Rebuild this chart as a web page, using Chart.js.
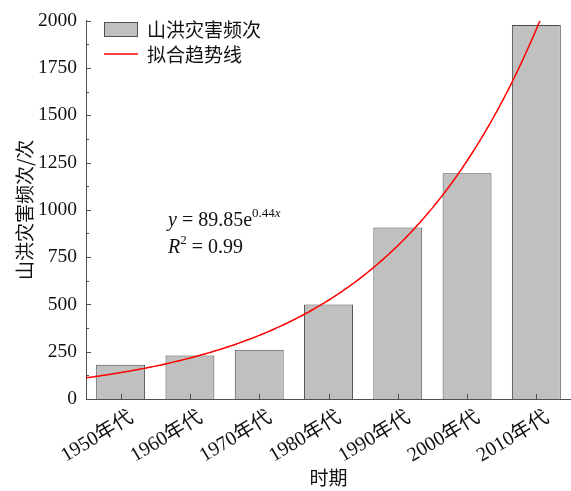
<!DOCTYPE html>
<html>
<head>
<meta charset="utf-8">
<script src="https://cdn.jsdelivr.net/npm/chart.js@4"></script>
<style>
  html, body { margin: 0; padding: 0; background: #fff; }
  #c { display: block; }
</style>
</head>
<body>
<canvas id="c" width="571" height="491"></canvas>
<script>
// Decades and flash-flood disaster counts
const categories = ['1950年代', '1960年代', '1970年代', '1980年代', '1990年代', '2000年代', '2010年代'];
const counts = [181, 230, 261, 500, 907, 1194, 1977];
const yTicks = [0, 250, 500, 750, 1000, 1250, 1500, 1750, 2000];

// Exponential fit y = a·e^(b·x), x = decade index starting at 1
const fitA = 89.85;
const fitB = 0.44;
const fitR2 = 0.99;

const yMax = 2000;
const xStart = 0.5;
const xEnd = Math.log(yMax / fitA) / fitB;
const fitPoints = [];
for (let i = 0; i <= 200; i++) {
  const x = xStart + (xEnd - xStart) * i / 200;
  fitPoints.push({ x: x, y: fitA * Math.exp(fitB * x) });
}

const serif = "'Liberation Serif', 'Times New Roman', 'Noto Sans CJK SC', serif";
const cjk = "'Noto Sans CJK SC', 'Liberation Sans', sans-serif";
const axisColor = '#505050';

Chart.defaults.font.family = serif;
Chart.defaults.font.size = 19;
Chart.defaults.color = '#111';

// Inward tick marks, legend and fit equation
const decorations = {
  id: 'decorations',
  afterDraw(chart) {
    const ctx = chart.ctx;
    const y = chart.scales.y;
    const x = chart.scales.x;
    const area = chart.chartArea;
    ctx.save();
    ctx.strokeStyle = axisColor;
    ctx.lineWidth = 1;
    ctx.beginPath();
    for (let v = 0; v <= yMax; v += 125) {
      const py = Math.round(y.getPixelForValue(v)) + 0.5;
      const len = (v % 250 === 0) ? 5 : 3;
      ctx.moveTo(area.left, py);
      ctx.lineTo(area.left + len, py);
    }
    categories.forEach((c, i) => {
      const px = Math.round(x.getPixelForValue(i)) + 0.5;
      ctx.moveTo(px, area.bottom);
      ctx.lineTo(px, area.bottom - 5);
    });
    ctx.stroke();

    // legend
    const ds = chart.data.datasets;
    ctx.fillStyle = '#c0c0c0';
    ctx.fillRect(104, 22, 34, 15);
    ctx.strokeStyle = '#505050';
    ctx.strokeRect(104.5, 22.5, 33, 14);
    ctx.strokeStyle = '#ff0000';
    ctx.lineWidth = 1.5;
    ctx.beginPath();
    ctx.moveTo(104, 54);
    ctx.lineTo(138, 54);
    ctx.stroke();
    ctx.fillStyle = '#111';
    ctx.font = '19px ' + cjk;
    ctx.textBaseline = 'middle';
    ctx.textAlign = 'left';
    ctx.fillText(ds[0].label, 147, 30);
    ctx.fillText(ds[1].label, 147, 55);

    // fit equation
    ctx.textBaseline = 'alphabetic';
    let tx = 168;
    ctx.font = 'italic 20px ' + serif;
    ctx.fillText('y', tx, 226);
    tx += ctx.measureText('y').width;
    ctx.font = '20px ' + serif;
    const mid = ' = ' + fitA.toFixed(2) + 'e';
    ctx.fillText(mid, tx, 226);
    tx += ctx.measureText(mid).width;
    ctx.font = '13px ' + serif;
    const ex = fitB.toFixed(2);
    ctx.fillText(ex, tx, 217);
    tx += ctx.measureText(ex).width;
    ctx.font = 'italic 13px ' + serif;
    ctx.fillText('x', tx, 217);

    tx = 168;
    ctx.font = 'italic 20px ' + serif;
    ctx.fillText('R', tx, 253);
    tx += ctx.measureText('R').width;
    ctx.font = '13px ' + serif;
    ctx.fillText('2', tx, 244);
    tx += ctx.measureText('2').width;
    ctx.font = '20px ' + serif;
    ctx.fillText(' = ' + fitR2.toFixed(2), tx, 253);
    ctx.restore();
  }
};

new Chart(document.getElementById('c'), {
  type: 'bar',
  data: {
    labels: categories,
    datasets: [
      {
        label: '山洪灾害频次',
        data: counts,
        backgroundColor: '#c0c0c0',
        borderColor: '#4a4a4a',
        borderWidth: 1,
        grouped: false,
        categoryPercentage: 1,
        barPercentage: 0.706,
        order: 2
      },
      {
        type: 'line',
        label: '拟合趋势线',
        data: fitPoints,
        xAxisID: 'x2',
        borderColor: '#ff0000',
        borderWidth: 1.5,
        pointRadius: 0,
        fill: false,
        tension: 0,
        order: 1
      }
    ]
  },
  options: {
    responsive: false,
    animation: false,
    devicePixelRatio: 1,
    layout: { padding: { top: 16, right: 0, left: 0, bottom: 0 } },
    plugins: {
      legend: { display: false },
      tooltip: { enabled: false }
    },
    scales: {
      x: {
        type: 'category',
        offset: true,
        grid: { display: false, drawTicks: false },
        border: { display: true, color: axisColor, width: 1 },
        ticks: {
          color: '#111',
          font: { family: serif, size: 20 },
          minRotation: 31,
          maxRotation: 31,
          padding: 7,
          labelOffset: 11,
          autoSkip: false
        },
        title: {
          display: true,
          text: '时期',
          color: '#111',
          font: { family: cjk, size: 19 },
          padding: { top: 0, bottom: 2 }
        },
        afterFit(s) { s.height = 92; }
      },
      x2: {
        type: 'linear',
        display: false,
        offset: false,
        min: 0.5,
        max: 7.5
      },
      y: {
        min: 0,
        max: yMax,
        afterBuildTicks(s) { s.ticks = yTicks.map(v => ({ value: v })); },
        grid: { display: false, drawTicks: false },
        border: { display: true, color: axisColor, width: 1 },
        ticks: {
          color: '#111',
          font: { family: serif, size: 19.5 },
          padding: 9,
          callback: (v) => String(v)
        },
        title: {
          display: true,
          text: '山洪灾害频次/次',
          color: '#111',
          font: { family: cjk, size: 19 },
          padding: { top: 13, bottom: 0 }
        },
        afterFit(s) { s.width = 86; }
      }
    }
  },
  plugins: [decorations]
});
</script>
</body>
</html>
